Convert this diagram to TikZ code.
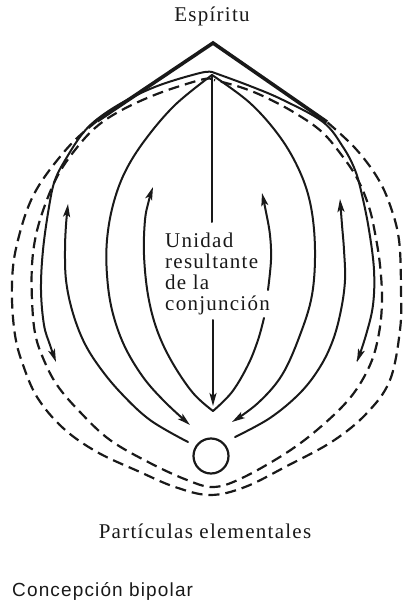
\documentclass[tikz,border=0pt]{standalone}
\usepackage{fontspec}
\setmainfont{Liberation Serif}[LetterSpace=6]
\newfontfamily\capsans{Liberation Sans}[LetterSpace=6]
\usetikzlibrary{arrows.meta}
\tikzset{
  ln/.style={line width=2pt, draw=black!90, line cap=round},
  dsh/.style={line width=2.2pt, draw=black!90, dash pattern=on 11pt off 6pt},
  roof/.style={line width=3.6pt, draw=black!90, line join=miter},
  tipend/.style={-{Stealth[length=13pt,width=7pt,inset=3pt]}},
  lbl/.style={font=\fontsize{21}{21}\selectfont, text=black!90, inner sep=0pt},
  smoothplot/.style={smooth, tension=0.6}
}
\begin{document}
\begin{tikzpicture}[x=1pt,y=-1pt]
\useasboundingbox (0,0) rectangle (402,601);

% apex points
\coordinate (roofapex) at (213,43);
\coordinate (roofL) at (97,121);
\coordinate (roofR) at (327,122);
\coordinate (lensapex) at (212,75);

% roof
\draw[roof] (roofL) -- (roofapex) -- (roofR);

% outer dashed
\draw[dsh] plot[smoothplot] coordinates {(97,121) (75,140) (55,163) (38,187) (27,210) (18,240) (13,267) (12,300) (15,335) (22,362) (37,397) (63,428) (97,452) (140,472) (175,487) (210,495) (245,487) (287,466) (333,441) (367,413) (390,380) (400,330) (401,290) (399,240) (390,205) (377,177) (355,148) (327,122)};

% inner dashed
\draw[dsh] plot[smoothplot] coordinates {(212,79) (200,80) (157,94) (120,111) (95,128) (75,150) (58,175) (45,205) (36,235) (32,265) (32,300) (35,333) (43,358) (57,385) (80,412) (110,440) (150,463) (187,480) (213,487) (240,479) (283,455) (317,430) (350,398) (370,365) (379,333) (382,300) (380,265) (375,233) (369,207) (358,180) (343,157) (322,132) (295,113) (265,97) (240,87) (214,80)};

% outer solid (hat) with downward arrows
\draw[ln, tipend] plot[smoothplot] coordinates {(212,72) (200,73) (160,85) (127,100) (100,117) (83,133) (67,157) (55,180) (49,207) (43,250) (41,290) (44,325) (50,345) (56,362)};
\draw[ln, tipend] plot[smoothplot] coordinates {(212,72) (250,86) (283,100) (323,122) (343,147) (355,170) (362,195) (369,230) (374,270) (373,305) (366,335) (357,362)};

% curves rising from the particle
\draw[ln, tipend] plot[smoothplot] coordinates {(188,442) (150,420) (120,392) (98,365) (83,340) (72,310) (66,280) (65,250) (66,225) (68,204)};
\draw[ln, tipend] plot[smoothplot] coordinates {(235,437) (270,418) (300,393) (320,367) (333,340) (341,310) (345,280) (344,250) (342,225) (340,199)};

% big lens descending to the particle
\draw[ln, tipend] plot[smoothplot] coordinates {(212,75) (175,105) (145,140) (125,172) (113,205) (107,240) (107,275) (112,310) (124,345) (143,377) (165,402) (190,425)};
\draw[ln, tipend] plot[smoothplot] coordinates {(212,75) (250,103) (280,137) (300,172) (311,207) (315,250) (312,295) (300,335) (282,375) (258,403) (232,422)};

% inner lens rising from the V
\draw[ln, tipend] plot[smoothplot] coordinates {(213,411) (193,393) (172,362) (157,330) (148,295) (144,255) (145,220) (149,200) (153,187)};
\draw[ln, tipend] plot[smoothplot] coordinates {(268,290) (271,260) (270,235) (266,212) (262,193)};
\draw[ln] plot[smoothplot] coordinates {(213,411) (232,392) (248,365) (258,340) (264,318)};

% central axis
\coordinate (axisTopEnd) at (212,222);
\coordinate (axisLowStart) at (213,320);
\coordinate (axisTip) at (213,406);
\draw[ln] (lensapex) -- (axisTopEnd);
\draw[ln, tipend] (axisLowStart) -- (axisTip);

% particle
\node[circle, draw=black!90, line width=2.2pt, minimum size=35pt, inner sep=0pt] (core) at (211,456) {};

% labels
\node[lbl, anchor=base] (espiritu) at (212,22) {Espíritu};
\node[lbl, anchor=north west, align=left] (unidad) at (165,232.5) {Unidad\\resultante\\de la\\conjunción};
\node[lbl, anchor=base] (particulas) at (205,538) {Partículas elementales};
\node[lbl, font=\capsans\fontsize{19}{19}\selectfont, anchor=base west] (concepcion) at (12,596) {Concepción bipolar};
\end{tikzpicture}
\end{document}
